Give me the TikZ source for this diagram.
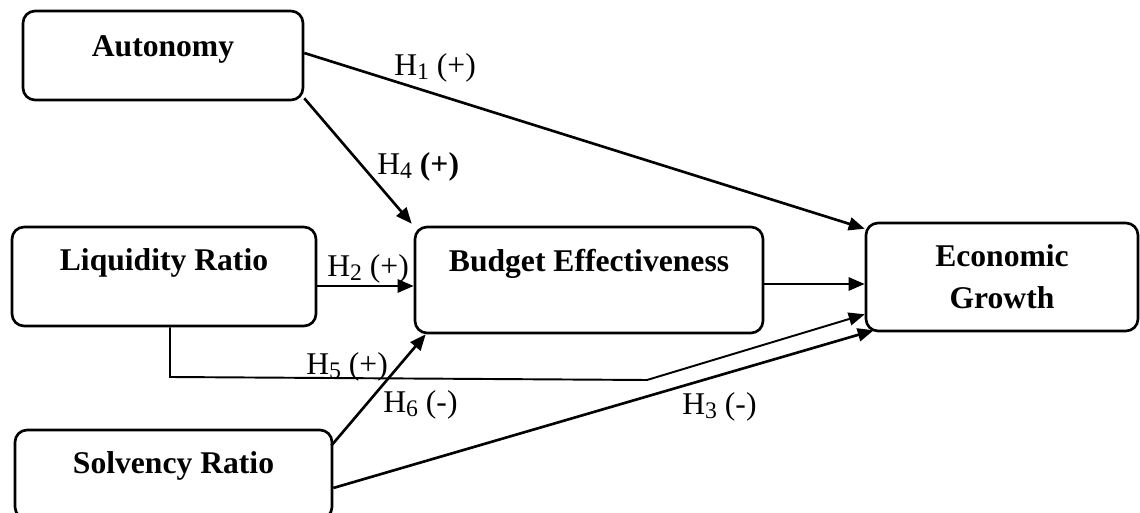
\documentclass[tikz,border=0pt]{standalone}
\usepackage{fontspec}
\setmainfont{Liberation Serif}
\usetikzlibrary{arrows.meta}
\newcommand{\hsub}[1]{\raisebox{-0.25ex}{\fontsize{13.5}{14}\selectfont#1}}

\begin{document}
\begin{tikzpicture}[x=0.02cm, y=-0.02cm,
        box/.style={draw, line width=1.5pt, rounded corners=0.24cm, align=center, inner sep=0pt,
            font=\fontsize{18}{24}\selectfont\bfseries, text height=12.2pt},
        link/.style={line width=1.5pt},
        arr/.style={link, -{Triangle[length=0.32cm, width=0.26cm]}},
        hyp/.style={anchor=base west, inner sep=0pt, font=\fontsize{18}{20}\selectfont}]
        \useasboundingbox (0,0) rectangle (1140,513);
        % 变量框
        \node[box, minimum width=5.6cm, minimum height=1.78cm, text depth=10.8pt] (auto) at (163,55.5) {Autonomy};
        \node[box, minimum width=6.08cm, minimum height=1.98cm, text depth=18.7pt] (liq) at (164,276.5) {Liquidity Ratio};
        \node[box, minimum width=6.96cm, minimum height=2.12cm, text depth=21.5pt] (budget) at (589,280) {Budget Effectiveness};
        \node[box, minimum width=5.44cm, minimum height=2.16cm, text height=36.2pt] (econ) at (1002,277) {Economic\\Growth};
        \node[box, minimum width=6.34cm, minimum height=1.78cm, text depth=13pt] (solv) at (173.5,474.5) {Solvency Ratio};
        % 假设路径
        \draw[arr] ([yshift=0.05cm]auto.east) -- ([yshift=-0.14cm]econ.north west);
        \draw[arr] ([yshift=0.06cm]auto.south east) -- ([xshift=-0.04cm, yshift=0.04cm]budget.north west);
        \coordinate (h2s) at ([yshift=-0.19cm]liq.east);
        \draw[arr] (h2s) -- (h2s -| budget.west);
        \coordinate (bes) at ([yshift=-0.08cm]budget.east);
        \draw[arr] (bes) -- (bes -| econ.west);
        \coordinate (h5a) at ([xshift=0.12cm]liq.south);
        \coordinate (h5b) at (170,377);
        \coordinate (h5c) at (647,380);
        \draw[arr, line width=1.1pt] (h5a) -- (h5b) -- (h5c) -- ([yshift=0.36cm]econ.south west);
        \draw[arr] ([xshift=-0.04cm, yshift=-0.34cm]solv.north east) -- ([xshift=0.24cm]budget.south west);
        \draw[arr] ([yshift=-0.27cm]solv.east) -- ([xshift=0.18cm, yshift=0.04cm]econ.south west);
        % 标签
        \node[hyp] (h1lab) at (394,76) {H\hsub{1} (+)};
        \node[hyp] (h4lab) at (377,175) {H\hsub{4} \textbf{(+)}};
        \node[hyp] (h2lab) at (327,277) {H\hsub{2} (+)};
        \node[hyp] (h5lab) at (306,375) {H\hsub{5} (+)};
        \node[hyp] (h6lab) at (383,413) {H\hsub{6} (-)};
        \node[hyp] (h3lab) at (682,415) {H\hsub{3} (-)};
    \end{tikzpicture}
\end{document}
